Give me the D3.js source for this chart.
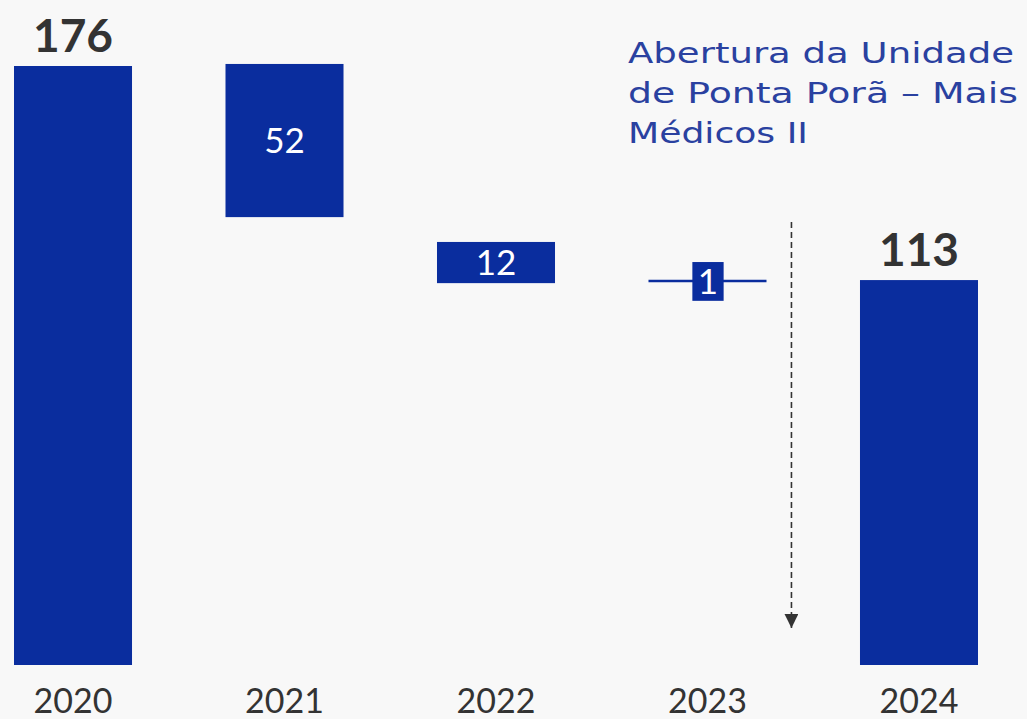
<!DOCTYPE html>
<html>
<head>
<meta charset="utf-8">
<script src="https://cdn.jsdelivr.net/npm/d3@7"></script>
<style>
  html, body { margin: 0; padding: 0; background: #f8f8f8; }
  svg { display: block; }
</style>
</head>
<body>
<svg id="chart" width="1027" height="719"></svg>
<script>
// ---- data ----
const years = ["2020", "2021", "2022", "2023", "2024"];
const labels = ["176", "52", "12", "1", "113"];
const kinds = ["total", "step", "step", "step", "total"];
// drawn extents of each bar (stylized waterfall, as it appears in the picture)
const barTop = [176, 176.6, 124.3, 118.4, 113.1];
const barBottom = [0, 131.6, 112.2, 107.0, 0];
const connectorValue = 112.8;   // horizontal rule through the 2023 step
const annotationLines = ["Abertura da Unidade", "de Ponta Porã – Mais", "Médicos II"];
const annotationArrowFrom = 130.2;
const annotationArrowTo = 10.9;

// ---- layout ----
const svg = d3.select("#chart");
const W = 1027, H = 719;
const barColor = "#0a2d9e";
const textDark = "#333333";
const annColor = "#2a41a0";
const font = "Lato, 'Open Sans', sans-serif";
const annFont = "'DejaVu Sans', sans-serif";

svg.append("rect").attr("width", W).attr("height", H).attr("fill", "#f8f8f8");

const x = d3.scaleBand().domain(years).range([14, 978]).paddingInner(0.442).paddingOuter(0);
const y = d3.scaleLinear().domain([0, 176]).range([665, 66]);
const bw = x.bandwidth();

const data = years.map((yr, i) => ({ yr, label: labels[i], kind: kinds[i], top: barTop[i], bottom: barBottom[i] }));

// bars (2023 step drawn as a small box on a rule)
const g = svg.append("g");
data.forEach((d, i) => {
  if (d.yr === "2023") {
    g.append("line")
      .attr("x1", x(d.yr)).attr("x2", x(d.yr) + bw)
      .attr("y1", y(connectorValue)).attr("y2", y(connectorValue))
      .attr("stroke", barColor).attr("stroke-width", 2.5);
    const boxW = bw * 0.265;
    g.append("rect")
      .attr("x", x(d.yr) + bw / 2 - boxW / 2 + 0.5)
      .attr("y", y(d.top))
      .attr("width", boxW)
      .attr("height", y(d.bottom) - y(d.top))
      .attr("fill", barColor);
  } else {
    g.append("rect")
      .attr("x", x(d.yr))
      .attr("y", y(d.top))
      .attr("width", bw)
      .attr("height", y(d.bottom) - y(d.top))
      .attr("fill", barColor);
  }
});

// value labels
data.forEach(d => {
  const cx = x(d.yr) + bw / 2;
  if (d.kind === "total") {
    g.append("text")
      .attr("x", cx).attr("y", y(d.top) - 14)
      .attr("text-anchor", "middle")
      .attr("font-family", font).attr("font-weight", 700)
      .attr("font-size", 46).attr("fill", textDark)
      .text(d.label);
  } else {
    const mid = (y(d.top) + y(d.bottom)) / 2;
    g.append("text")
      .attr("x", cx + (d.yr === "2023" ? 0.5 : 0)).attr("y", mid)
      .attr("dy", "0.36em")
      .attr("text-anchor", "middle")
      .attr("font-family", font).attr("font-weight", 400)
      .attr("font-size", 35).attr("fill", "#ffffff")
      .text(d.label);
  }
});

// x axis labels
const xAxis = d3.axisBottom(x).tickSize(0).tickPadding(0);
const ax = svg.append("g").attr("transform", "translate(0,689)").call(xAxis);
ax.select(".domain").remove();
ax.selectAll("text")
  .attr("font-family", font).attr("font-size", 34).attr("fill", textDark)
  .attr("dy", "0.72em");

// annotation: dashed arrow + text
const ax2 = x("2023") + bw + x.step() * 0.118;
svg.append("defs").append("marker")
  .attr("id", "arrow").attr("viewBox", "0 0 10 10")
  .attr("refX", 10).attr("refY", 5)
  .attr("markerWidth", 14).attr("markerHeight", 14)
  .attr("markerUnits", "userSpaceOnUse")
  .attr("orient", "auto")
  .append("path").attr("d", "M0,0 L10,5 L0,10 Z").attr("fill", "#333");
svg.append("line")
  .attr("x1", ax2).attr("x2", ax2)
  .attr("y1", y(annotationArrowFrom)).attr("y2", y(annotationArrowTo))
  .attr("stroke", "#333").attr("stroke-width", 1.6)
  .attr("stroke-dasharray", "6,4")
  .attr("marker-end", "url(#arrow)");

const annWidths = [386, 390, 180];
const at = svg.append("g")
  .attr("font-family", annFont).attr("font-size", 29).attr("fill", annColor);
annotationLines.forEach((t, i) => {
  at.append("text").attr("x", 628).attr("y", 63 + i * 40)
    .attr("textLength", annWidths[i]).attr("lengthAdjust", "spacingAndGlyphs")
    .text(t);
});
</script>
</body>
</html>
